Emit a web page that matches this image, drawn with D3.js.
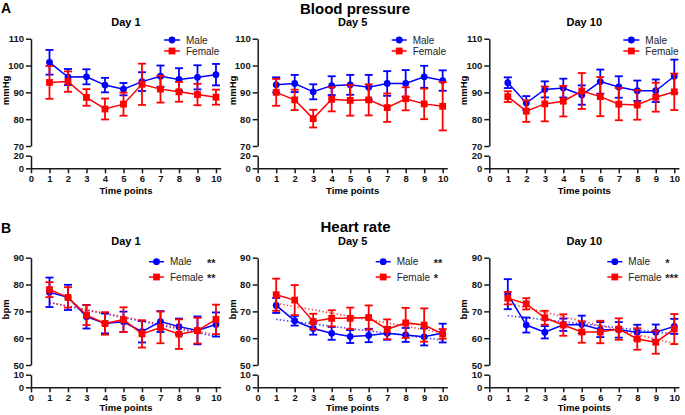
<!DOCTYPE html>
<html>
<head>
<meta charset="utf-8">
<script src="https://cdn.jsdelivr.net/npm/d3@7"></script>
<style>
body { margin:0; background:#fff; }
svg { font-family: "Liberation Sans", Arial, sans-serif; }
</style>
</head>
<body>
<svg id="fig" width="685" height="415"></svg>
<script>
// DATA
//============
var time_points = [1, 2, 3, 4, 5, 6, 7, 8, 9, 10];
var x_ticks = [0, 1, 2, 3, 4, 5, 6, 7, 8, 9, 10];
var bp_ticks = [70, 80, 90, 100, 110];
var bp_low_ticks = [0, 20];
var hr_ticks = [50, 60, 70, 80, 90];
var hr_low_ticks = [0, 10];
var day_titles = ['Day 1', 'Day 5', 'Day 10'];
var series_names = ['Male', 'Female'];

// Blood pressure, mmHg (mean, error)
var bp_d1_male       = [101.2, 95.7, 95.8, 92.7, 91.2, 94.0, 96.0, 94.8, 95.6, 96.6];
var bp_d1_male_err   = [4.6, 3.0, 2.8, 2.7, 2.3, 3.5, 4.0, 4.2, 4.5, 4.0];
var bp_d1_female     = [93.7, 94.0, 88.1, 83.8, 85.6, 93.0, 91.2, 90.2, 89.2, 88.2];
var bp_d1_female_err = [6.1, 3.8, 3.1, 3.9, 4.3, 7.7, 5.0, 3.7, 4.0, 2.8];

var bp_d5_male       = [92.8, 93.3, 90.2, 92.5, 92.8, 91.9, 93.3, 93.3, 95.8, 94.4];
var bp_d5_male_err   = [2.8, 3.2, 2.8, 3.5, 3.7, 4.6, 4.6, 5.0, 4.1, 3.8];
var bp_d5_female     = [90.0, 87.2, 80.2, 87.4, 87.0, 87.2, 84.3, 87.6, 85.7, 84.8];
var bp_d5_female_err = [5.0, 3.8, 3.3, 4.5, 5.7, 5.8, 5.3, 4.3, 5.7, 9.0];

var bp_d10_male       = [93.6, 86.0, 91.1, 91.6, 89.0, 94.0, 92.0, 90.6, 90.6, 96.0];
var bp_d10_male_err   = [2.0, 2.6, 3.0, 3.5, 3.6, 4.5, 4.0, 3.8, 4.2, 6.2];
var bp_d10_female     = [88.4, 83.0, 85.7, 86.7, 90.5, 88.4, 85.6, 85.3, 88.2, 90.2];
var bp_d10_female_err = [2.0, 4.0, 6.5, 5.7, 6.7, 7.3, 6.0, 5.5, 5.4, 6.8];

// Heart rate, bpm (mean, error)
var hr_d1_male       = [77.1, 75.2, 68.0, 65.5, 66.1, 62.4, 66.2, 64.3, 62.9, 65.1];
var hr_d1_male_err   = [5.5, 4.7, 4.4, 3.7, 3.8, 4.0, 3.9, 3.0, 5.2, 4.5];
var hr_d1_female     = [78.1, 75.2, 68.6, 65.5, 66.9, 61.6, 64.0, 61.5, 62.8, 67.0];
var hr_d1_female_err = [2.8, 3.8, 3.7, 4.2, 4.6, 5.1, 5.9, 5.5, 4.8, 5.5];

var hr_d5_male       = [72.2, 66.5, 63.6, 61.8, 60.6, 61.0, 61.8, 61.2, 60.5, 61.9];
var hr_d5_male_err   = [2.8, 1.8, 2.3, 2.4, 2.4, 2.5, 2.4, 2.6, 3.2, 3.5];
var hr_d5_female     = [76.2, 74.2, 66.2, 67.4, 67.4, 67.7, 63.3, 65.7, 64.9, 61.6];
var hr_d5_female_err = [6.0, 5.6, 2.9, 3.0, 4.0, 4.5, 3.7, 5.6, 6.2, 1.8];

var hr_d10_male       = [76.4, 64.9, 62.2, 65.0, 65.1, 63.2, 63.1, 62.2, 62.2, 64.4];
var hr_d10_male_err   = [5.6, 2.8, 2.3, 2.3, 3.3, 2.8, 2.9, 2.8, 2.9, 2.8];
var hr_d10_female     = [74.9, 72.8, 67.6, 64.9, 62.3, 62.3, 63.4, 59.7, 58.5, 63.4];
var hr_d10_female_err = [2.3, 2.1, 2.6, 4.0, 4.0, 4.2, 4.0, 4.0, 4.3, 5.6];

// dotted trend lines, values at time point 1 and 10
var hr_trend_x = [1, 10];
var hr_d1_male_trend    = [73.3, 60.6];
var hr_d1_female_trend  = [73.3, 61.2];
var hr_d5_male_trend    = [67.0, 59.3];
var hr_d5_female_trend  = [73.0, 62.0];
var hr_d10_male_trend   = [68.4, 61.6];
var hr_d10_female_trend = [73.0, 58.0];

var hr_stars_male   = ['**', '**', '*'];
var hr_stars_female = ['**', '*', '***'];

var colors = { "male": "#0000ff", "female": "#ff0000" };
var axis_color = "#1a1a1a";

// LAYOUT
//============
var col_left = [31, 257.7, 489.3];
var row_top = [38.7, 257.7];
var h_upper = 107.3, low_top = 117, low_bottom = 129.6;

var svg = d3.select('#fig');

function draw_panel(p) {
    var g = svg.append('g')
        .attr('transform', 'translate(' + p.left + ',' + p.top + ')');

    var x = d3.scaleLinear().domain([0, 10.25]).range([0, 189.6]);
    var y = d3.scaleLinear().domain([p.ticks[0], p.ticks[p.ticks.length - 1]]).range([h_upper, 0]);
    var y_low = d3.scaleLinear().domain([p.low_ticks[0], p.low_ticks[1]]).range([low_bottom, low_top]);

    // axes (broken y axis: upper segment + short lower segment)
    var ax_up = g.append('g')
        .call(d3.axisLeft(y).tickValues(p.ticks).tickSize(5).tickSizeOuter(0));
    var ax_low = g.append('g')
        .call(d3.axisLeft(y_low).tickValues(p.low_ticks).tickSize(5).tickSizeOuter(0));
    var ax_x = g.append('g')
        .attr('transform', 'translate(0,' + low_bottom + ')')
        .call(d3.axisBottom(x).tickValues(x_ticks).tickSize(5).tickSizeOuter(0));
    [ax_up, ax_low, ax_x].forEach(function(a) {
        a.selectAll('path, line').attr('stroke', axis_color).attr('stroke-width', 1.5);
        a.selectAll('text')
            .attr('fill', '#111')
            .attr('font-size', '9.5px')
            .attr('font-weight', 'bold')
            .attr('font-family', '"Liberation Sans", Arial, sans-serif');
    });
    ax_up.selectAll('text').attr('x', -7);
    ax_low.selectAll('text').attr('x', -7);
    ax_x.selectAll('text').attr('y', 7);

    // axis labels and title
    g.append('text')
        .attr('transform', 'translate(-22,' + (h_upper / 2 - 2) + ') rotate(-90)')
        .attr('text-anchor', 'middle')
        .attr('font-size', '9.5px')
        .attr('font-weight', 'bold')
        .text(p.y_label);
    g.append('text')
        .attr('x', 95).attr('y', p.xlab_y)
        .attr('text-anchor', 'middle')
        .attr('font-size', '9.5px')
        .attr('font-weight', 'bold')
        .text('Time points');
    g.append('text')
        .attr('x', 95).attr('y', -12.7)
        .attr('text-anchor', 'middle')
        .attr('font-size', '11px')
        .attr('font-weight', 'bold')
        .text(p.title);

    // trend lines
    var line = d3.line().x(function(d) { return x(d[0]); }).y(function(d) { return y(d[1]); });
    p.series.forEach(function(s) {
        if (!s.trend) return;
        g.append('path')
            .datum(d3.zip(hr_trend_x, s.trend))
            .attr('d', line)
            .attr('fill', 'none')
            .attr('stroke', s.color)
            .attr('stroke-width', 1.6)
            .attr('stroke-opacity', 0.75)
            .attr('stroke-dasharray', '1.4,2.2');
    });

    // series
    p.series.forEach(function(s) {
        var pts = d3.zip(time_points, s.mean, s.err);
        var sg = g.append('g');
        sg.append('path')
            .datum(pts)
            .attr('d', line)
            .attr('fill', 'none')
            .attr('stroke', s.color)
            .attr('stroke-width', 1.5);
        var eb = sg.selectAll('g.eb').data(pts).enter().append('g').attr('class', 'eb');
        eb.append('line')
            .attr('x1', function(d) { return x(d[0]); })
            .attr('x2', function(d) { return x(d[0]); })
            .attr('y1', function(d) { return y(d[1] - d[2]); })
            .attr('y2', function(d) { return y(d[1] + d[2]); });
        eb.append('line')
            .attr('x1', function(d) { return x(d[0]) - 4; })
            .attr('x2', function(d) { return x(d[0]) + 4; })
            .attr('y1', function(d) { return y(d[1] + d[2]); })
            .attr('y2', function(d) { return y(d[1] + d[2]); });
        eb.append('line')
            .attr('x1', function(d) { return x(d[0]) - 4; })
            .attr('x2', function(d) { return x(d[0]) + 4; })
            .attr('y1', function(d) { return y(d[1] - d[2]); })
            .attr('y2', function(d) { return y(d[1] - d[2]); });
        eb.selectAll('line').attr('stroke', s.color).attr('stroke-width', 1.8);
        if (s.shape == 'circle') {
            sg.selectAll('circle').data(pts).enter().append('circle')
                .attr('cx', function(d) { return x(d[0]); })
                .attr('cy', function(d) { return y(d[1]); })
                .attr('r', 3.4)
                .attr('fill', s.color);
        } else {
            sg.selectAll('rect').data(pts).enter().append('rect')
                .attr('x', function(d) { return x(d[0]) - 3.4; })
                .attr('y', function(d) { return y(d[1]) - 3.4; })
                .attr('width', 6.8).attr('height', 6.8)
                .attr('fill', s.color);
        }
    });

    // legend
    p.series.forEach(function(s, i) {
        var ly = p.leg.y[i];
        var lg = g.append('g');
        lg.append('line')
            .attr('x1', p.leg.x0).attr('x2', p.leg.x1)
            .attr('y1', ly).attr('y2', ly)
            .attr('stroke', s.color).attr('stroke-width', 1.5);
        var cx = (p.leg.x0 + p.leg.x1) / 2;
        if (s.shape == 'circle') {
            lg.append('circle').attr('cx', cx).attr('cy', ly).attr('r', 3.4).attr('fill', s.color);
        } else {
            lg.append('rect').attr('x', cx - 3.4).attr('y', ly - 3.4)
                .attr('width', 6.8).attr('height', 6.8).attr('fill', s.color);
        }
        lg.append('text')
            .attr('x', p.leg.tx).attr('y', ly + 3.6)
            .attr('font-size', '10px')
            .attr('fill', '#222')
            .text(s.name);
        if (s.stars) {
            lg.append('text')
                .attr('x', p.leg.sx).attr('y', ly + 5)
                .attr('font-size', '11px')
                .attr('font-weight', 'bold')
                .attr('fill', '#222')
                .text(s.stars);
        }
    });
}

// Blood pressure row
var bp_data = [
    [bp_d1_male, bp_d1_male_err, bp_d1_female, bp_d1_female_err],
    [bp_d5_male, bp_d5_male_err, bp_d5_female, bp_d5_female_err],
    [bp_d10_male, bp_d10_male_err, bp_d10_female, bp_d10_female_err]
];
var bp_leg_x = [[133, 149, 155], [134, 149, 155], [134, 150, 156]];
bp_data.forEach(function(d, i) {
    draw_panel({
        left: col_left[i], top: row_top[0],
        ticks: bp_ticks, low_ticks: bp_low_ticks,
        y_label: 'mmHg', title: day_titles[i], xlab_y: 155.5,
        series: [
            {name: series_names[0], mean: d[0], err: d[1], color: colors.male, shape: 'circle'},
            {name: series_names[1], mean: d[2], err: d[3], color: colors.female, shape: 'square'}
        ],
        leg: {x0: bp_leg_x[i][0], x1: bp_leg_x[i][1], tx: bp_leg_x[i][2], y: [1.3, 12.3]}
    });
});

// Heart rate row
var hr_data = [
    [hr_d1_male, hr_d1_male_err, hr_d1_female, hr_d1_female_err, hr_d1_male_trend, hr_d1_female_trend],
    [hr_d5_male, hr_d5_male_err, hr_d5_female, hr_d5_female_err, hr_d5_male_trend, hr_d5_female_trend],
    [hr_d10_male, hr_d10_male_err, hr_d10_female, hr_d10_female_err, hr_d10_male_trend, hr_d10_female_trend]
];
hr_data.forEach(function(d, i) {
    draw_panel({
        left: col_left[i], top: row_top[1],
        ticks: hr_ticks, low_ticks: hr_low_ticks,
        y_label: 'bpm', title: day_titles[i], xlab_y: 153.5,
        series: [
            {name: series_names[0], mean: d[0], err: d[1], trend: d[4], color: colors.male, shape: 'circle', stars: hr_stars_male[i]},
            {name: series_names[1], mean: d[2], err: d[3], trend: d[5], color: colors.female, shape: 'square', stars: hr_stars_female[i]}
        ],
        leg: {x0: 118, x1: 133, tx: 139, sx: 176, y: [4, 19.3]}
    });
});

// main titles and panel letters
svg.append('text').attr('x', 355).attr('y', 13.5)
    .attr('text-anchor', 'middle').attr('font-size', '15px').attr('font-weight', 'bold')
    .text('Blood pressure');
svg.append('text').attr('x', 355.5).attr('y', 232)
    .attr('text-anchor', 'middle').attr('font-size', '15px').attr('font-weight', 'bold')
    .text('Heart rate');
svg.append('text').attr('x', 1).attr('y', 12.5)
    .attr('font-size', '14px').attr('font-weight', 'bold').text('A');
svg.append('text').attr('x', 1).attr('y', 233)
    .attr('font-size', '14px').attr('font-weight', 'bold').text('B');
</script>
</body>
</html>
